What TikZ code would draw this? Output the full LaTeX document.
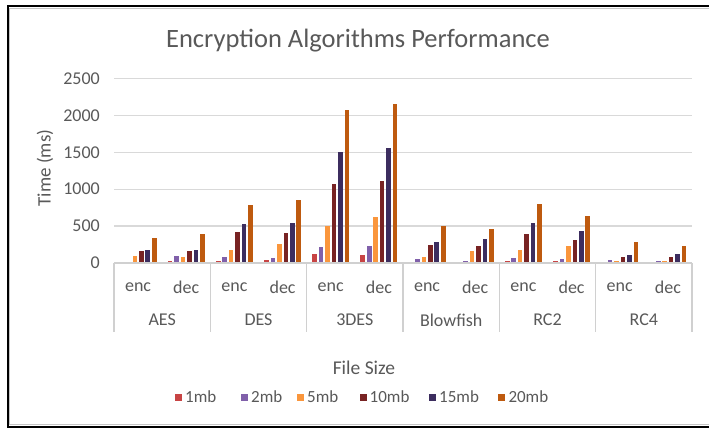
\documentclass[tikz,border=0pt]{standalone}
\usepackage{fontspec}
\setmainfont{Carlito}
\definecolor{txt}{HTML}{595959}
\definecolor{grid}{HTML}{D9D9D9}
\definecolor{axisc}{HTML}{D0D0D0}
\definecolor{ser0}{RGB}{200,68,68}
\definecolor{ser1}{RGB}{128,96,170}
\definecolor{ser2}{RGB}{250,150,60}
\definecolor{ser3}{RGB}{120,35,35}
\definecolor{ser4}{RGB}{60,45,95}
\definecolor{ser5}{RGB}{190,90,15}
\tikzset{
  ticklab/.style={anchor=east,inner sep=0pt,text=txt,font=\fontsize{18}{20}\selectfont},
  catlab/.style={inner sep=0pt,text=txt,font=\fontsize{18}{20}\selectfont},
  legtxt/.style={anchor=west,inner sep=0pt,text=txt,font=\fontsize{17}{19}\selectfont},
  legsq/.style={inner sep=0pt,minimum size=7pt},
}
\begin{document}
\begin{tikzpicture}[x=1pt,y=-1pt]
\useasboundingbox (0,0) rectangle (709,428);
\fill[white] (0,0) rectangle (709,428);
\def\yb{263}
\def\ys{0.0738}
\def\xl{114}
\def\sw{48.1667}
% frame (right edge lies beyond the picture)
\draw[line width=0.8pt,gray!45] (712,8.7) -- (9.3,8.7) -- (9.3,424.6) -- (712,424.6);
\draw[line width=2pt,black] (712,6.5) -- (7.5,6.5) -- (7.5,427) -- (712,427);
% title
\node[text=txt,font=\fontsize{26.5}{29}\selectfont] (title) at (358,41) {Encryption Algorithms Performance};
% gridlines
\foreach \g in {500,1000,1500,2000,2500}
  \draw[grid,line width=1.2pt] ({\xl},{\yb-\g*\ys}) -- (692,{\yb-\g*\ys});
% tick labels
\foreach \g in {0,500,1000,1500,2000,2500}
  \node[ticklab] (t\g) at (100,{\yb-\g*\ys}) {\g};
\node[rotate=90,text=txt,font=\fontsize{19}{21}\selectfont] (ytitle) at (45,168) {Time (ms)};
% bars
\foreach \vals [count=\k from 0] in {
  {5,18,90,167,176,334},{27,90,77,167,176,398},
  {27,77,181,420,533,791},{36,72,258,407,547,854},
  {118,212,497,1067,1500,2070},{104,230,619,1107,1564,2151},
  {3,50,77,249,280,502},{18,27,167,230,330,461},
  {27,72,176,398,547,800},{27,50,230,307,434,637},
  {3,36,27,86,104,280},{18,27,27,86,127,230}} {
  \foreach \v [count=\i from 0] in \vals {
    \pgfmathsetmacro\xc{\xl+\sw*(\k+0.5)+(\i-2.5)*6.45}
    \pgfmathsetmacro\yt{\yb-\v*\ys}
    \fill[ser\i] (\xc-2.3,\yb) rectangle (\xc+2.3,\yt);
  }
}
% category axis
\draw[axisc,line width=1.2pt] (\xl,\yb) -- (692,\yb);
\foreach \j in {0,...,6}
  \draw[axisc,line width=1.2pt] ({\xl+96.3333*\j},\yb) -- ({\xl+96.3333*\j},332);
\foreach \k in {0,...,5} {
  \pgfmathsetmacro\xe{\xl+\sw*(2*\k+0.5)}
  \pgfmathsetmacro\xd{\xl+\sw*(2*\k+1.5)}
  \node[catlab] (enc\k) at (\xe,287) {enc};
  \node[catlab] (dec\k) at (\xd,287) {dec};
}
\foreach \nm [count=\k from 0] in {AES,DES,3DES,Blowfish,RC2,RC4} {
  \pgfmathsetmacro\xg{\xl+96.3333*\k+48.1667}
  \node[catlab] (grp\k) at (\xg,320) {\nm};
}
\node[text=txt,font=\fontsize{19.5}{21}\selectfont] (xtitle) at (364,368) {File Size};
% legend
\foreach \xs/\lab [count=\i from 0] in {178.5/1mb,244.5/2mb,300.5/5mb,363/10mb,432.5/15mb,501.8/20mb} {
  \node[legsq,fill=ser\i] (lsq\i) at (\xs,397) {};
  \node[legtxt] (ltx\i) at (\xs+6.5,397) {\lab};
}
\end{tikzpicture}
\end{document}
